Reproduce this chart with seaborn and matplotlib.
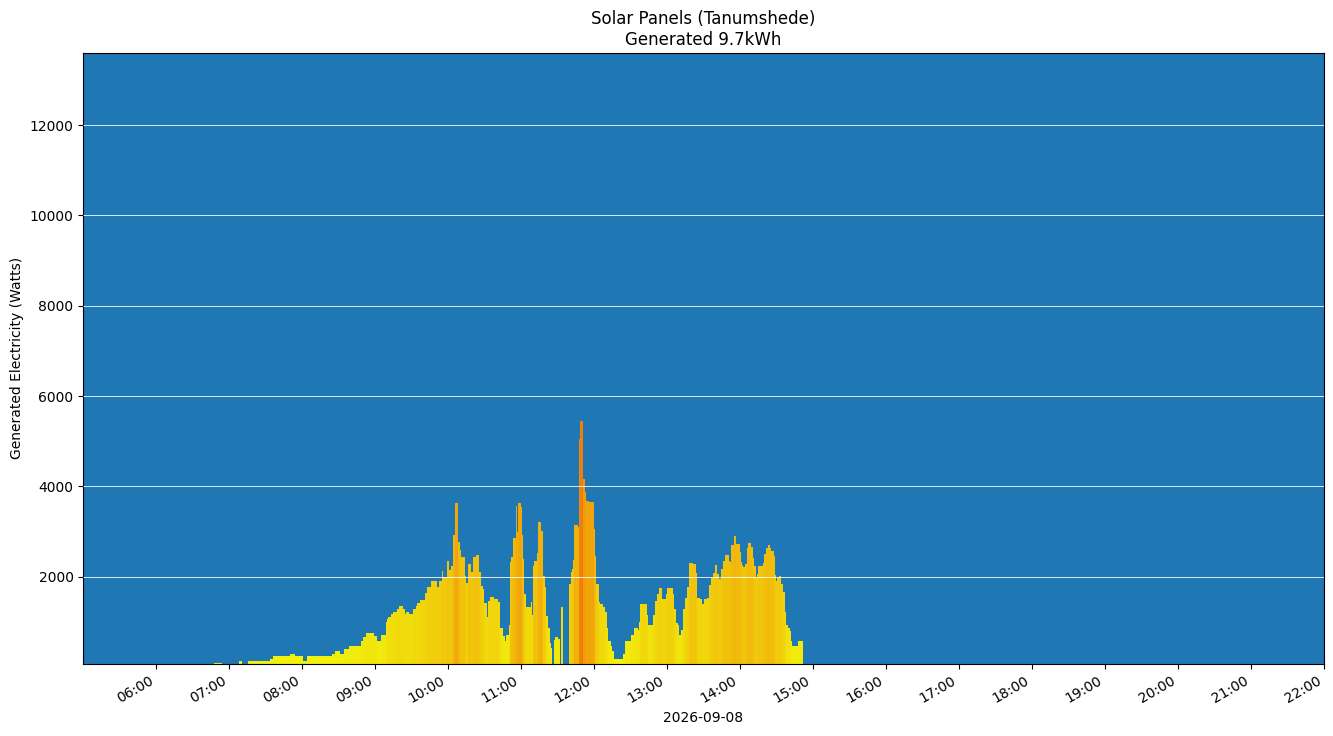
import seaborn as sns
import matplotlib.pyplot as plt
import matplotlib.dates as mdates
import numpy as np
import pandas as pd

day = "2026-09-08"
place = "Tanumshede"
generated_kwh = 9.7

# start time of each reading (value holds until the next one)
run_start = [
    "06:48", "06:54", "07:08", "07:11", "07:16", "07:34", "07:36", "07:50", "07:54", "08:01",
    "08:04", "08:25", "08:27", "08:31", "08:35", "08:39", "08:49", "08:50", "08:53", "08:59",
    "09:02", "09:05", "09:09", "09:10", "09:11", "09:13", "09:15", "09:18", "09:20", "09:23",
    "09:25", "09:26", "09:28", "09:31", "09:34", "09:35", "09:37", "09:41", "09:43", "09:46",
    "09:51", "09:53", "09:55", "09:56", "09:59", "10:01", "10:03", "10:04", "10:06", "10:08",
    "10:10", "10:11", "10:14", "10:15", "10:17", "10:19", "10:21", "10:23", "10:26", "10:27",
    "10:29", "10:30", "10:32", "10:33", "10:35", "10:38", "10:41", "10:43", "10:45", "10:47",
    "10:48", "10:50", "10:51", "10:52", "10:54", "10:56", "10:57", "10:58", "11:00", "11:01",
    "11:02", "11:03", "11:04", "11:08", "11:09", "11:10", "11:11", "11:13", "11:14", "11:17",
    "11:18", "11:20", "11:21", "11:22", "11:24", "11:25", "11:26", "11:27", "11:28", "11:31",
    "11:32", "11:33", "11:35", "11:40", "11:41", "11:42", "11:43", "11:44", "11:47", "11:48",
    "11:49", "11:51", "11:53", "11:54", "11:56", "12:00", "12:01", "12:02", "12:04", "12:05",
    "12:08", "12:09", "12:11", "12:12", "12:14", "12:15", "12:17", "12:24", "12:26", "12:31",
    "12:33", "12:36", "12:37", "12:38", "12:44", "12:45", "12:49", "12:50", "12:52", "12:54",
    "12:56", "12:59", "13:00", "13:05", "13:06", "13:08", "13:09", "13:10", "13:12", "13:13",
    "13:15", "13:17", "13:18", "13:22", "13:24", "13:25", "13:27", "13:29", "13:31", "13:33",
    "13:35", "13:36", "13:38", "13:40", "13:41", "13:43", "13:45", "13:46", "13:48", "13:51",
    "13:52", "13:53", "13:55", "13:57", "14:00", "14:01", "14:02", "14:03", "14:04", "14:06",
    "14:07", "14:09", "14:11", "14:12", "14:13", "14:14", "14:15", "14:19", "14:20", "14:22",
    "14:23", "14:25", "14:26", "14:28", "14:29", "14:30", "14:31", "14:32", "14:34", "14:36",
    "14:37", "14:38", "14:40", "14:41", "14:42", "14:43", "14:48",
]
last_reading_end = "14:52"

run_watts = [
    95, 0, 138, 0, 140, 180, 248, 292, 248, 140,
    248, 300, 358, 300, 400, 468, 570, 666, 754, 695,
    578, 717, 989, 1062, 1106, 1172, 1230, 1296, 1348, 1282,
    1172, 1223, 1172, 1282, 1355, 1414, 1480, 1648, 1765, 1897,
    1765, 1897, 2132, 2000, 2359, 2147, 2249, 2931, 3635, 2777,
    2586, 2440, 2015, 1853, 2279, 2103, 2440, 2484, 2100, 1800,
    1721, 1428, 1106, 1458, 1545, 1500, 1436, 864, 695, 585,
    710, 930, 2337, 2447, 2865, 3569, 2982, 3635, 3554, 2931,
    2403, 1611, 1326, 1436, 1150, 2249, 2352, 2520, 3217, 3019,
    2029, 1765, 1128, 864, 534, 431, 0, 593, 666, 615,
    0, 1326, 0, 1831, 2117, 2183, 2381, 3151, 3107, 5042,
    5438, 4162, 3877, 3679, 3657, 3063, 2469, 1831, 1436, 1392,
    1326, 1216, 864, 578, 468, 358, 182, 292, 578, 710,
    864, 820, 996, 1392, 1150, 930, 1150, 1458, 1612, 1743,
    1502, 1612, 1743, 1612, 1282, 988, 930, 710, 820, 1282,
    1524, 1765, 2315, 2293, 2095, 1524, 1502, 1392, 1502, 1524,
    1809, 1963, 2095, 2271, 2073, 1941, 2183, 2359, 2491, 2359,
    2337, 2711, 2909, 2733, 2557, 2337, 2271, 2220, 2293, 2645,
    2755, 2667, 2425, 2249, 1985, 2073, 2249, 2315, 2513, 2645,
    2711, 2645, 2579, 2469, 2051, 1905, 1963, 2029, 1831, 1655,
    1216, 930, 864, 798, 578, 468, 578,
]

starts = pd.to_datetime([f"{day} {t}" for t in run_start])
edges_dt = list(starts.to_pydatetime()) + [pd.Timestamp(f"{day} {last_reading_end}").to_pydatetime()]
edges = [float(e) for e in mdates.date2num(edges_dt)]
mids = [(a + b) / 2 for a, b in zip(edges[:-1], edges[1:])]

df = pd.DataFrame({"t": mids, "watts": run_watts})

fig, ax = plt.subplots(figsize=(13.33, 7.36), dpi=100)
ax.set_facecolor("#1f77b4")

sns.histplot(data=df, x="t", weights="watts", bins=edges, ax=ax,
             alpha=1, linewidth=0)

# colour each bar by its output, yellow -> orange
cmap = plt.get_cmap("autumn_r")
peak = max(run_watts)
for p in ax.patches:
    p.set_facecolor(cmap(p.get_height() / (2 * peak)))
    p.set_alpha(0.94)

ax.set_xlim(mdates.date2num(pd.Timestamp(f"{day} 05:00:20")),
            mdates.date2num(pd.Timestamp(f"{day} 22:00")))
ax.set_ylim(73, peak * 2.5)

ax.xaxis.set_major_locator(mdates.HourLocator())
ax.xaxis.set_major_formatter(mdates.DateFormatter("%H:%M"))
ax.yaxis.grid(True, color="white", linewidth=0.7, alpha=0.85)
ax.xaxis.grid(False)
ax.set_axisbelow(False)
for line in ax.get_ygridlines():
    line.set_zorder(0.5)

plt.setp(ax.get_xticklabels(), rotation=30, ha="right")
ax.set_xlabel(day)
ax.set_ylabel("Generated Electricity (Watts)")
ax.set_title(f"Solar Panels ({place})\nGenerated {generated_kwh}kWh")

fig.subplots_adjust(left=0.0625, right=0.9929, top=0.928, bottom=0.098)
fig.savefig("out.png", dpi=100)
